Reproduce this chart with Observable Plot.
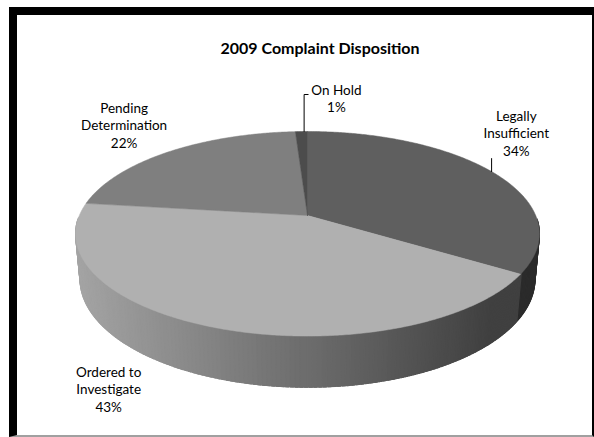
<!DOCTYPE html>
<html><head><meta charset="utf-8">
<script src="https://cdn.jsdelivr.net/npm/d3@7"></script>
<script src="https://cdn.jsdelivr.net/npm/@observablehq/plot@0.6"></script>
<style>
html,body{margin:0;padding:0;background:#fff;}
#wrap{position:relative;width:594px;height:437px;overflow:hidden;font-family:Lato,"Open Sans",sans-serif;}
#frame{position:absolute;left:9px;top:7px;width:585px;height:430px;box-sizing:border-box;border-top:8px solid #000;border-left:8px solid #000;border-right:2px solid #000;border-bottom:2px solid #a0a0a0;}
#title{position:absolute;top:38px;left:320px;transform:translateX(-50%);font-weight:bold;font-size:16px;line-height:19px;white-space:nowrap;color:#000;}
#chart{position:absolute;left:0;top:0;}
</style></head><body>
<div id="wrap"><div id="frame"></div><div id="chart"></div><div id="title"></div></div>
<script>
// ---- data ----
const chartTitle = "2009 Complaint Disposition";
const categories = ["Legally Insufficient", "Ordered to Investigate", "Pending Determination", "On Hold"];
const labelText = ["Legally\nInsufficient", "Ordered to\nInvestigate", "Pending\nDetermination", "On Hold"];
const percents = [34, 43, 22, 1];

// ---- styles / layout ----
const topColors = ["#5f5f5f", "#b0b0b0", "#7f7f7f", "#4c4c4c"];
const sideColorLegally = "#2b2b2b";
const labelShift = [-13.7, 6.7, 2.0, 7.9];      // degrees, from slice mid-angle
const labelRadius = [1.46, 1.488, 1.46, 1.515]; // in pie radii
const W = 594, H = 437, CX = 307, CY = 215, F = 1150;
const D = 5.04, SIN = 0.434, COS = 0.901, THICK = 0.22;

document.getElementById("title").textContent = chartTitle;

function proj(deg, rho, Y) {
  const t = deg * Math.PI / 180;
  const X = rho * Math.sin(t), Z = rho * Math.cos(t);
  const depth = D + COS * Z - SIN * Y;
  return {u: X / depth, v: (COS * Y + SIN * Z) / depth};
}

// slice angles
const total = d3.sum(percents);
let acc = 0;
const slices = categories.map((c, i) => {
  const a = acc / total * 360; acc += percents[i];
  const b = acc / total * 360;
  return {i, name: c, a, b, mid: (a + b) / 2};
});

// top faces
const tops = slices.map(s => {
  const pts = [{u: 0, v: 0}];
  const n = Math.max(2, Math.ceil((s.b - s.a) / 0.5));
  for (let k = 0; k <= n; k++) pts.push(proj(s.a + (s.b - s.a) * k / n, 1, 0));
  pts.push({u: 0, v: 0});
  return pts;
});

// side strips (front visible range), slightly overlapping to hide seams
const sliceAt = deg => slices.find(s => deg >= s.a && deg < s.b);
const strips = [];
let id = 0;
for (let t = 92; t < 268; t += 1) {
  const m = t + 0.5;
  const s = sliceAt(m);
  const end = Math.min(t + 1.6, s.b > m ? Math.max(s.b, t + 1) : t + 1.6);
  const t2 = Math.min(t + 1.6, end);
  const pm = proj(m, 1, 0);
  const quad = [proj(t, 1, 0), proj(t2, 1, 0), proj(t2, 1, -THICK), proj(t, 1, -THICK), proj(t, 1, 0)];
  const depthKey = Math.cos(m * Math.PI / 180);
  quad.forEach(p => { p.id = id; p.shade = pm.u; p.slice = s.i; p.key = depthKey; });
  strips.push(quad);
  id++;
}
strips.sort((A, B) => B[0].key - A[0].key);
const orderedStrips = strips.filter(q => q[0].slice === 1).flat();
const legallyStrips = strips.filter(q => q[0].slice !== 1).flat();

// halo under the pie
const halo = d3.range(0, 361, 2).map(t => proj(t, 1.0, -THICK));

// labels
const labels = slices.map((s, i) => {
  const p = proj(s.mid + labelShift[i], labelRadius[i], 0);
  return {...p, text: labelText[i] + "\n" + percents[i] + "%"};
});

// leader lines
const rimL = proj(slices[0].mid, 1, 0);
const leaderLegally = [rimL, {u: rimL.u, v: rimL.v + 13 / F}];
const rimH = proj(slices[3].mid + 0.8, 1, 0);
const leaderHold = [rimH, {u: rimH.u, v: rimH.v + 37 / F}, {u: rimH.u + 4 / F, v: rimH.v + 37 / F}];

const chart = Plot.plot({
  width: W, height: H, margin: 0,
  x: {type: "linear", domain: [-CX / F, (W - CX) / F], range: [0, W], axis: null},
  y: {type: "linear", domain: [CY / F, (CY - H) / F], range: [0, H], axis: null},
  color: {type: "linear", domain: [-0.2, 0.16], range: ["#a4a4a4", "#404040"], clamp: true},
  style: {background: "transparent", overflow: "visible"},
  marks: [
    Plot.line(halo, {x: "u", y: "v", stroke: "#d4d4d4", strokeWidth: 7, fill: "#d4d4d4", ariaLabel: "halo"}),
    Plot.line(legallyStrips, {x: "u", y: "v", z: "id", fill: sideColorLegally, stroke: sideColorLegally, strokeWidth: 1.2}),
    Plot.line(orderedStrips, {x: "u", y: "v", z: "id", fill: "shade", stroke: "shade", strokeWidth: 1.2}),
    ...tops.map((pts, i) => Plot.line(pts, {x: "u", y: "v", fill: topColors[i], stroke: topColors[i], strokeWidth: 0.5})),
    Plot.line(leaderLegally, {x: "u", y: "v", stroke: "#000", strokeWidth: 1}),
    Plot.line(leaderHold, {x: "u", y: "v", stroke: "#000", strokeWidth: 1}),
    Plot.text(labels, {x: "u", y: "v", text: "text", fontSize: 13.5, lineHeight: 1.3, fill: "#000",
      fontFamily: "Lato, 'Open Sans', sans-serif"})
  ]
});

const svg = d3.select(chart);
const defs = svg.insert("defs", ":first-child");
defs.append("filter").attr("id", "blurHalo").attr("x", "-10%").attr("y", "-10%").attr("width", "120%").attr("height", "130%")
  .append("feGaussianBlur").attr("stdDeviation", 2.5);
svg.selectAll('g[aria-label="halo"]').attr("filter", "url(#blurHalo)");
document.getElementById("chart").appendChild(chart);
</script>
</body></html>
